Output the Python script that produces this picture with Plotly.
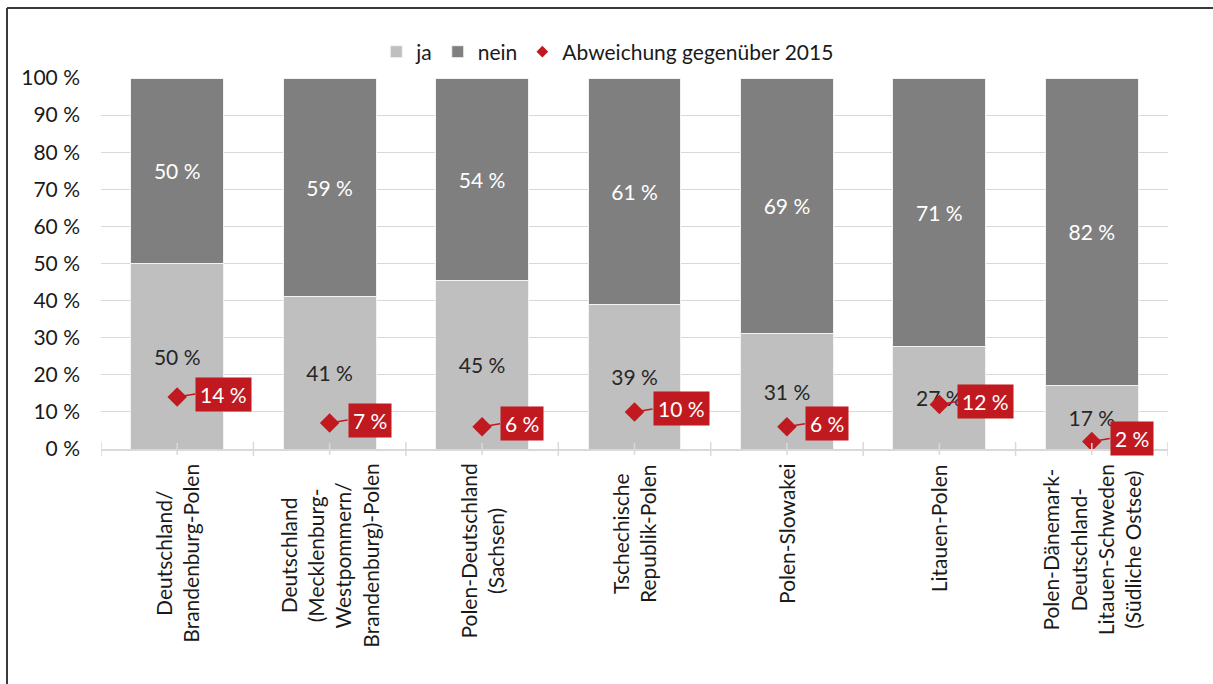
import plotly.graph_objects as go

categories = [
    "Deutschland/<br>Brandenburg-Polen",
    "Deutschland<br>(Mecklenburg-<br>Westpommern/<br>Brandenburg)-Polen",
    "Polen-Deutschland<br>(Sachsen)",
    "Tschechische<br>Republik-Polen",
    "Polen-Slowakei",
    "Litauen-Polen",
    "Polen-Dänemark-<br>Deutschland-<br>Litauen-Schweden<br>(Südliche Ostsee)",
]
ja = [50, 41, 45, 39, 31, 27, 17]
nein = [50, 59, 54, 61, 69, 71, 82]
abweichung = [14, 7, 6, 10, 6, 12, 2]
ytick_vals = [0, 10, 20, 30, 40, 50, 60, 70, 80, 90, 100]
ytick_text = [f"{v} %" for v in ytick_vals]

FONT = "Lato"
FS = 21
RED = "#C0191F"
TXT = "#1a1a1a"
idx = list(range(len(categories)))

fig = go.Figure()
fig.add_trace(go.Bar(
    x=idx, y=ja, name="ja", marker=dict(color="#BFBFBF", line=dict(color="#F2F2F2", width=1)),
    text=ja, texttemplate="%{text} %", textposition="inside", insidetextanchor="middle",
    textangle=0, textfont=dict(family=FONT, size=FS, color="#262626"), hoverinfo="skip",
))
fig.add_trace(go.Bar(
    x=idx, y=nein, name="nein", marker=dict(color="#7F7F7F", line=dict(color="#F2F2F2", width=1)),
    text=nein, texttemplate="%{text} %", textposition="inside", insidetextanchor="middle",
    textangle=0, textfont=dict(family=FONT, size=FS, color="white"), hoverinfo="skip",
))
fig.add_trace(go.Scatter(
    x=idx, y=abweichung, name="Abweichung gegenüber 2015", mode="markers",
    marker=dict(symbol="diamond", size=15, color=RED), showlegend=False,
))
# legend entry with a small diamond, as in the reference
fig.add_trace(go.Scatter(
    x=[None], y=[None], name="Abweichung gegenüber 2015", mode="markers",
    marker=dict(symbol="diamond", size=9, color=RED),
))

for i, v in zip(idx, abweichung):
    fig.add_annotation(
        x=i, y=v, xref="x", yref="y", text=f"{v} %", showarrow=True,
        arrowhead=0, arrowwidth=1.5, arrowcolor=RED, ax=18, ay=-3, xanchor="left",
        bgcolor=RED, borderpad=4, standoff=0,
        font=dict(family=FONT, size=FS, color="white"),
    )

for i, c in zip(idx, categories):
    fig.add_annotation(
        x=i, y=-0.035, xref="x", yref="paper", text=c, showarrow=False,
        textangle=-90, yanchor="top", xanchor="center", align="center",
        font=dict(family=FONT, size=FS, color=TXT),
    )

# tick marks across axis at centres and boundaries
for i in idx:
    fig.add_shape(type="line", x0=i, x1=i, y0=-0.016, y1=0.016, xref="x", yref="paper",
                  line=dict(color="#D9D9D9", width=1.5))
for b in [i - 0.5 for i in idx] + [len(idx) - 0.5]:
    fig.add_shape(type="line", x0=b, x1=b, y0=-0.019, y1=0.019, xref="x", yref="paper",
                  line=dict(color="#D9D9D9", width=1.5))

# outer frame
fig.add_shape(type="line", x0=-0.0881, x1=-0.0881, y0=1.1887, y1=-0.64, xref="paper", yref="paper",
              line=dict(color="#3a3a3a", width=2))
fig.add_shape(type="line", x0=-0.0881, x1=1.05, y0=1.1887, y1=1.1887, xref="paper", yref="paper",
              line=dict(color="#3a3a3a", width=2))

fig.update_layout(
    width=1213, height=684, barmode="stack", barnorm="percent", bargap=0.39,
    margin=dict(l=101, r=45, t=78, b=235),
    plot_bgcolor="white", paper_bgcolor="white",
    font=dict(family=FONT, size=FS, color=TXT),
    showlegend=True,
    legend=dict(orientation="h", x=0.5, xanchor="center", y=1.07, yanchor="middle",
                traceorder="normal", font=dict(family=FONT, size=FS, color=TXT),
                itemwidth=30, tracegroupgap=0),
    xaxis=dict(range=[-0.5, len(idx) - 0.5], showticklabels=False, showgrid=False,
               showline=True, linecolor="#D9D9D9", linewidth=1.5, ticks="", zeroline=False),
    yaxis=dict(range=[0, 100], tickmode="array", tickvals=ytick_vals, ticktext=ytick_text,
               showgrid=True, gridcolor="#D9D9D9", gridwidth=1, zeroline=False, showline=False,
               ticklabelstandoff=20, tickfont=dict(family=FONT, size=FS, color=TXT)),
)
fig.update_layout(legend=dict(x=0.258, xanchor="left"))

fig.write_html("out.html")
